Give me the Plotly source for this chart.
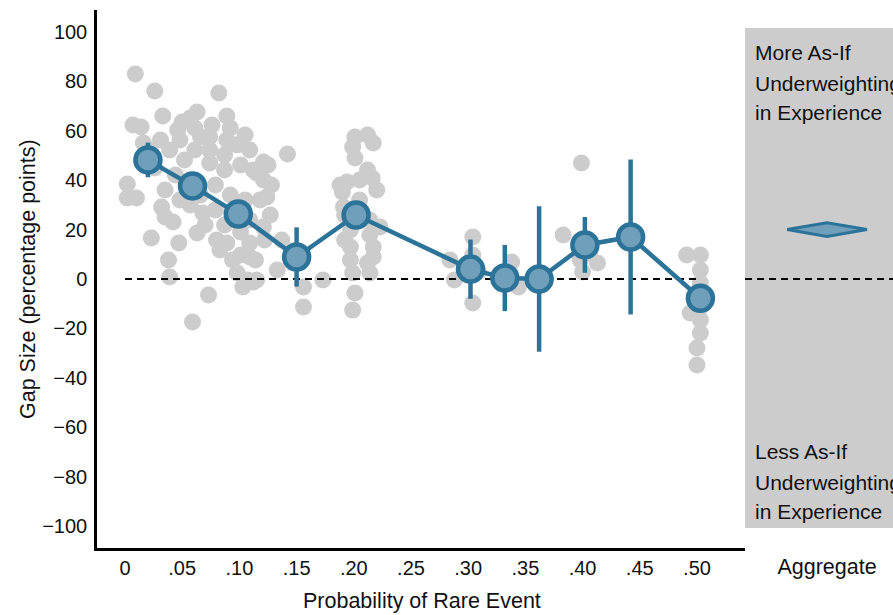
import plotly.graph_objects as go

# ---------------- data ----------------
# individual study gaps (gray dots)
DOT_P = [
    0.009, 0.026, 0.033, 0.007, 0.014, 0.016, 0.002, 0.002, 0.010, 0.023,
    0.038, 0.039, 0.047, 0.073, 0.059, 0.142, 0.082, 0.089, 0.063, 0.057,
    0.050, 0.032, 0.035, 0.042, 0.063, 0.080, 0.083, 0.094, 0.098, 0.107,
    0.115, 0.109, 0.109, 0.121, 0.124, 0.121, 0.109, 0.098, 0.089, 0.074,
    0.066, 0.121, 0.115, 0.074, 0.068, 0.133, 0.156, 0.156, 0.137, 0.173,
    0.089, 0.103, 0.112, 0.114, 0.112,
    0.031, 0.039, 0.048, 0.052, 0.044, 0.057, 0.035, 0.066, 0.079, 0.087,
    0.101, 0.092, 0.105, 0.079, 0.096, 0.109, 0.057, 0.048, 0.070, 0.087,
    0.101, 0.061, 0.074, 0.087, 0.046, 0.061, 0.076, 0.092, 0.105, 0.026,
    0.022, 0.118, 0.127, 0.122, 0.101, 0.125, 0.128,
    0.201, 0.212, 0.217, 0.199, 0.201, 0.212, 0.216, 0.220, 0.188, 0.194,
    0.190, 0.191, 0.197, 0.214, 0.223, 0.217, 0.197, 0.197, 0.212, 0.199,
    0.214, 0.201, 0.199, 0.192, 0.205, 0.192, 0.214, 0.217, 0.205,
    0.284, 0.288, 0.304, 0.304, 0.304, 0.309, 0.338, 0.344, 0.335,
    0.399, 0.383, 0.413, 0.400, 0.406, 0.398,
    0.491, 0.503, 0.503, 0.503, 0.494, 0.503, 0.503, 0.500, 0.500, 0.503, 0.503,
]
DOT_GAP = [
    83.0, 76.1, 66.0, 62.3, 61.5, 55.1, 38.5, 32.8, 32.8, 16.6,
    7.7, 0.8, 14.6, -6.5, -17.4, 50.6, 75.3, 66.0, 67.6, 65.2,
    63.6, 29.1, 25.1, 23.1, 18.6, 15.8, 11.7, 7.7, 2.4, -0.4,
    -0.4, 8.9, 14.6, 21.1, 33.2, 47.4, 52.2, 54.3, 56.3, 57.5,
    57.5, 40.1, 42.9, 47.0, 26.7, 3.6, -11.3, -3.2, 15.8, -0.4,
    14.6, -3.2, -1.2, 7.7, 44.1,
    56.3, 52.2, 56.3, 48.2, 42.1, 38.1, 36.0, 34.0, 38.1, 44.1,
    46.2, 34.0, 32.0, 27.9, 25.9, 23.9, 30.0, 32.0, 21.9, 21.9,
    19.0, 52.2, 52.2, 50.2, 60.3, 61.1, 62.3, 61.1, 58.3, 44.9,
    52.2, 32.0, 25.9, 15.8, 9.7, 46.2, 38.1,
    57.5, 58.3, 55.1, 53.4, 49.0, 44.1, 40.9, 36.0, 38.1, 39.3,
    35.2, 29.1, 19.8, 23.9, 21.1, 13.0, 13.0, 7.7, 6.5, 2.4,
    2.4, -5.7, -12.6, 25.9, 32.0, 15.8, 17.8, 8.9, 40.1,
    7.7, -0.4, 17.0, -9.7, 9.7, 2.8, 6.9, -3.2, 2.4,
    47.0, 17.8, 6.5, 2.8, 10.5, 7.7,
    9.7, 9.7, 3.6, -1.6, -13.8, -16.6, -21.9, -27.9, -34.8, -11.3, -6.5,
]

# binned means with 95% CI half-widths
MEAN_P = [0.020, 0.059, 0.099, 0.150, 0.202, 0.302, 0.332, 0.362, 0.402, 0.442, 0.503]
MEAN_GAP = [48.2, 37.7, 26.3, 8.9, 25.9, 4.0, 0.4, 0.0, 13.8, 17.0, -7.8]
MEAN_CI = [7.0, 4.0, 4.0, 12.0, 4.0, 12.0, 13.4, 29.5, 11.3, 31.4, 4.0]

# aggregate estimate
AGG_MEAN = 20.0
AGG_LO = 17.2
AGG_HI = 22.8

X_TICKS = [0, 0.05, 0.10, 0.15, 0.20, 0.25, 0.30, 0.35, 0.40, 0.45, 0.50]
X_TICK_LABELS = ["0", ".05", ".10", ".15", ".20", ".25", ".30", ".35", ".40", ".45", ".50"]
Y_TICKS = [-100, -80, -60, -40, -20, 0, 20, 40, 60, 80, 100]
Y_TICK_LABELS = [("\u2212" + str(-v)) if v < 0 else str(v) for v in Y_TICKS]

# ---------------- style ----------------
BLUE = "#2c7399"
BLUE_FILL = "#6f9fba"
GRAY = "#cccccc"
TXT = "#111111"
FONT = "Liberation Sans, Arial, sans-serif"

fig = go.Figure()

fig.add_trace(go.Scatter(
    x=DOT_P, y=DOT_GAP, mode="markers",
    marker=dict(size=17, color=GRAY, line=dict(width=0)),
    hoverinfo="skip", showlegend=False,
))

fig.add_trace(go.Scatter(
    x=[X_TICKS[0], X_TICKS[-1]], y=[0, 0], mode="lines",
    line=dict(color="black", width=2, dash="7px,5px"),
    hoverinfo="skip", showlegend=False,
))

fig.add_trace(go.Scatter(
    x=MEAN_P, y=MEAN_GAP, mode="lines+markers",
    line=dict(color=BLUE, width=4.5),
    marker=dict(size=25, color=BLUE_FILL, line=dict(color=BLUE, width=4.5)),
    error_y=dict(type="data", array=MEAN_CI, color=BLUE, thickness=4.5, width=0),
    hoverinfo="skip", showlegend=False,
))

# aggregate panel
fig.add_shape(type="rect", xref="x2 domain", yref="y", x0=0, x1=1,
              y0=-100.8, y1=101.6, fillcolor=GRAY, line=dict(width=0), layer="below")

fig.add_trace(go.Scatter(
    x=[0, 1], y=[0, 0], mode="lines", xaxis="x2", yaxis="y",
    line=dict(color="black", width=2, dash="7px,5px"),
    hoverinfo="skip", showlegend=False,
))

fig.add_trace(go.Scatter(
    x=[0.284, 0.554, 0.824, 0.554, 0.284],
    y=[AGG_MEAN, AGG_HI, AGG_MEAN, AGG_LO, AGG_MEAN],
    mode="lines", fill="toself", fillcolor=BLUE_FILL,
    line=dict(color=BLUE, width=3), xaxis="x2", yaxis="y",
    hoverinfo="skip", showlegend=False,
))

fig.update_layout(
    width=893, height=615,
    margin=dict(l=97, r=0, t=10, b=67),
    paper_bgcolor="white", plot_bgcolor="white",
    font=dict(family=FONT, size=20, color=TXT),
    hovermode=False,
    showlegend=False,
    xaxis=dict(
        domain=[0, 0.8141], range=[-0.0245, 0.542],
        showline=True, linecolor="black", linewidth=2.5,
        showgrid=False, zeroline=False, ticks="",
        tickvals=X_TICKS, ticktext=X_TICK_LABELS,
        tickfont=dict(size=20, color=TXT), ticklabelstandoff=0,
        automargin=False,
    ),
    yaxis=dict(
        range=[-108.9, 108.9],
        showline=True, linecolor="black", linewidth=2.5,
        showgrid=False, zeroline=False, ticks="",
        tickvals=Y_TICKS, ticktext=Y_TICK_LABELS,
        tickfont=dict(size=20, color=TXT), ticklabelstandoff=3,
        automargin=False,
    ),
    xaxis2=dict(
        domain=[0.8141, 1], range=[0, 1], anchor="y",
        showline=False, showgrid=False, zeroline=False, ticks="",
        tickvals=[0.554], ticktext=["Aggregate"],
        tickfont=dict(size=21.5, color=TXT), ticklabelstandoff=3,
        automargin=False,
    ),
)

annots = [
    dict(text="Probability of Rare Event", xref="paper", yref="paper",
         x=0.408, y=-0.0985, xanchor="center", yanchor="middle",
         font=dict(size=21.5)),
    dict(text="Gap Size (percentage points)", xref="paper", yref="paper",
         x=-0.0867, y=0.5, xanchor="center", yanchor="middle", textangle=-90,
         font=dict(size=21.5)),
]
for txt, yv in [("More As-If", 91.5), ("Underweighting", 79.1), ("in Experience", 67.6),
                ("Less As-If", -70.0), ("Underweighting", -82.2), ("in Experience", -94.3)]:
    annots.append(dict(text=txt, xref="paper", yref="y", x=0.824, y=yv,
                       xanchor="left", yanchor="middle", showarrow=False,
                       font=dict(size=21)))
for a in annots:
    a.setdefault("showarrow", False)
fig.update_layout(annotations=annots)

fig.write_html("out.html", config={"displayModeBar": False},
               post_script="document.body.style.margin='0px';")
